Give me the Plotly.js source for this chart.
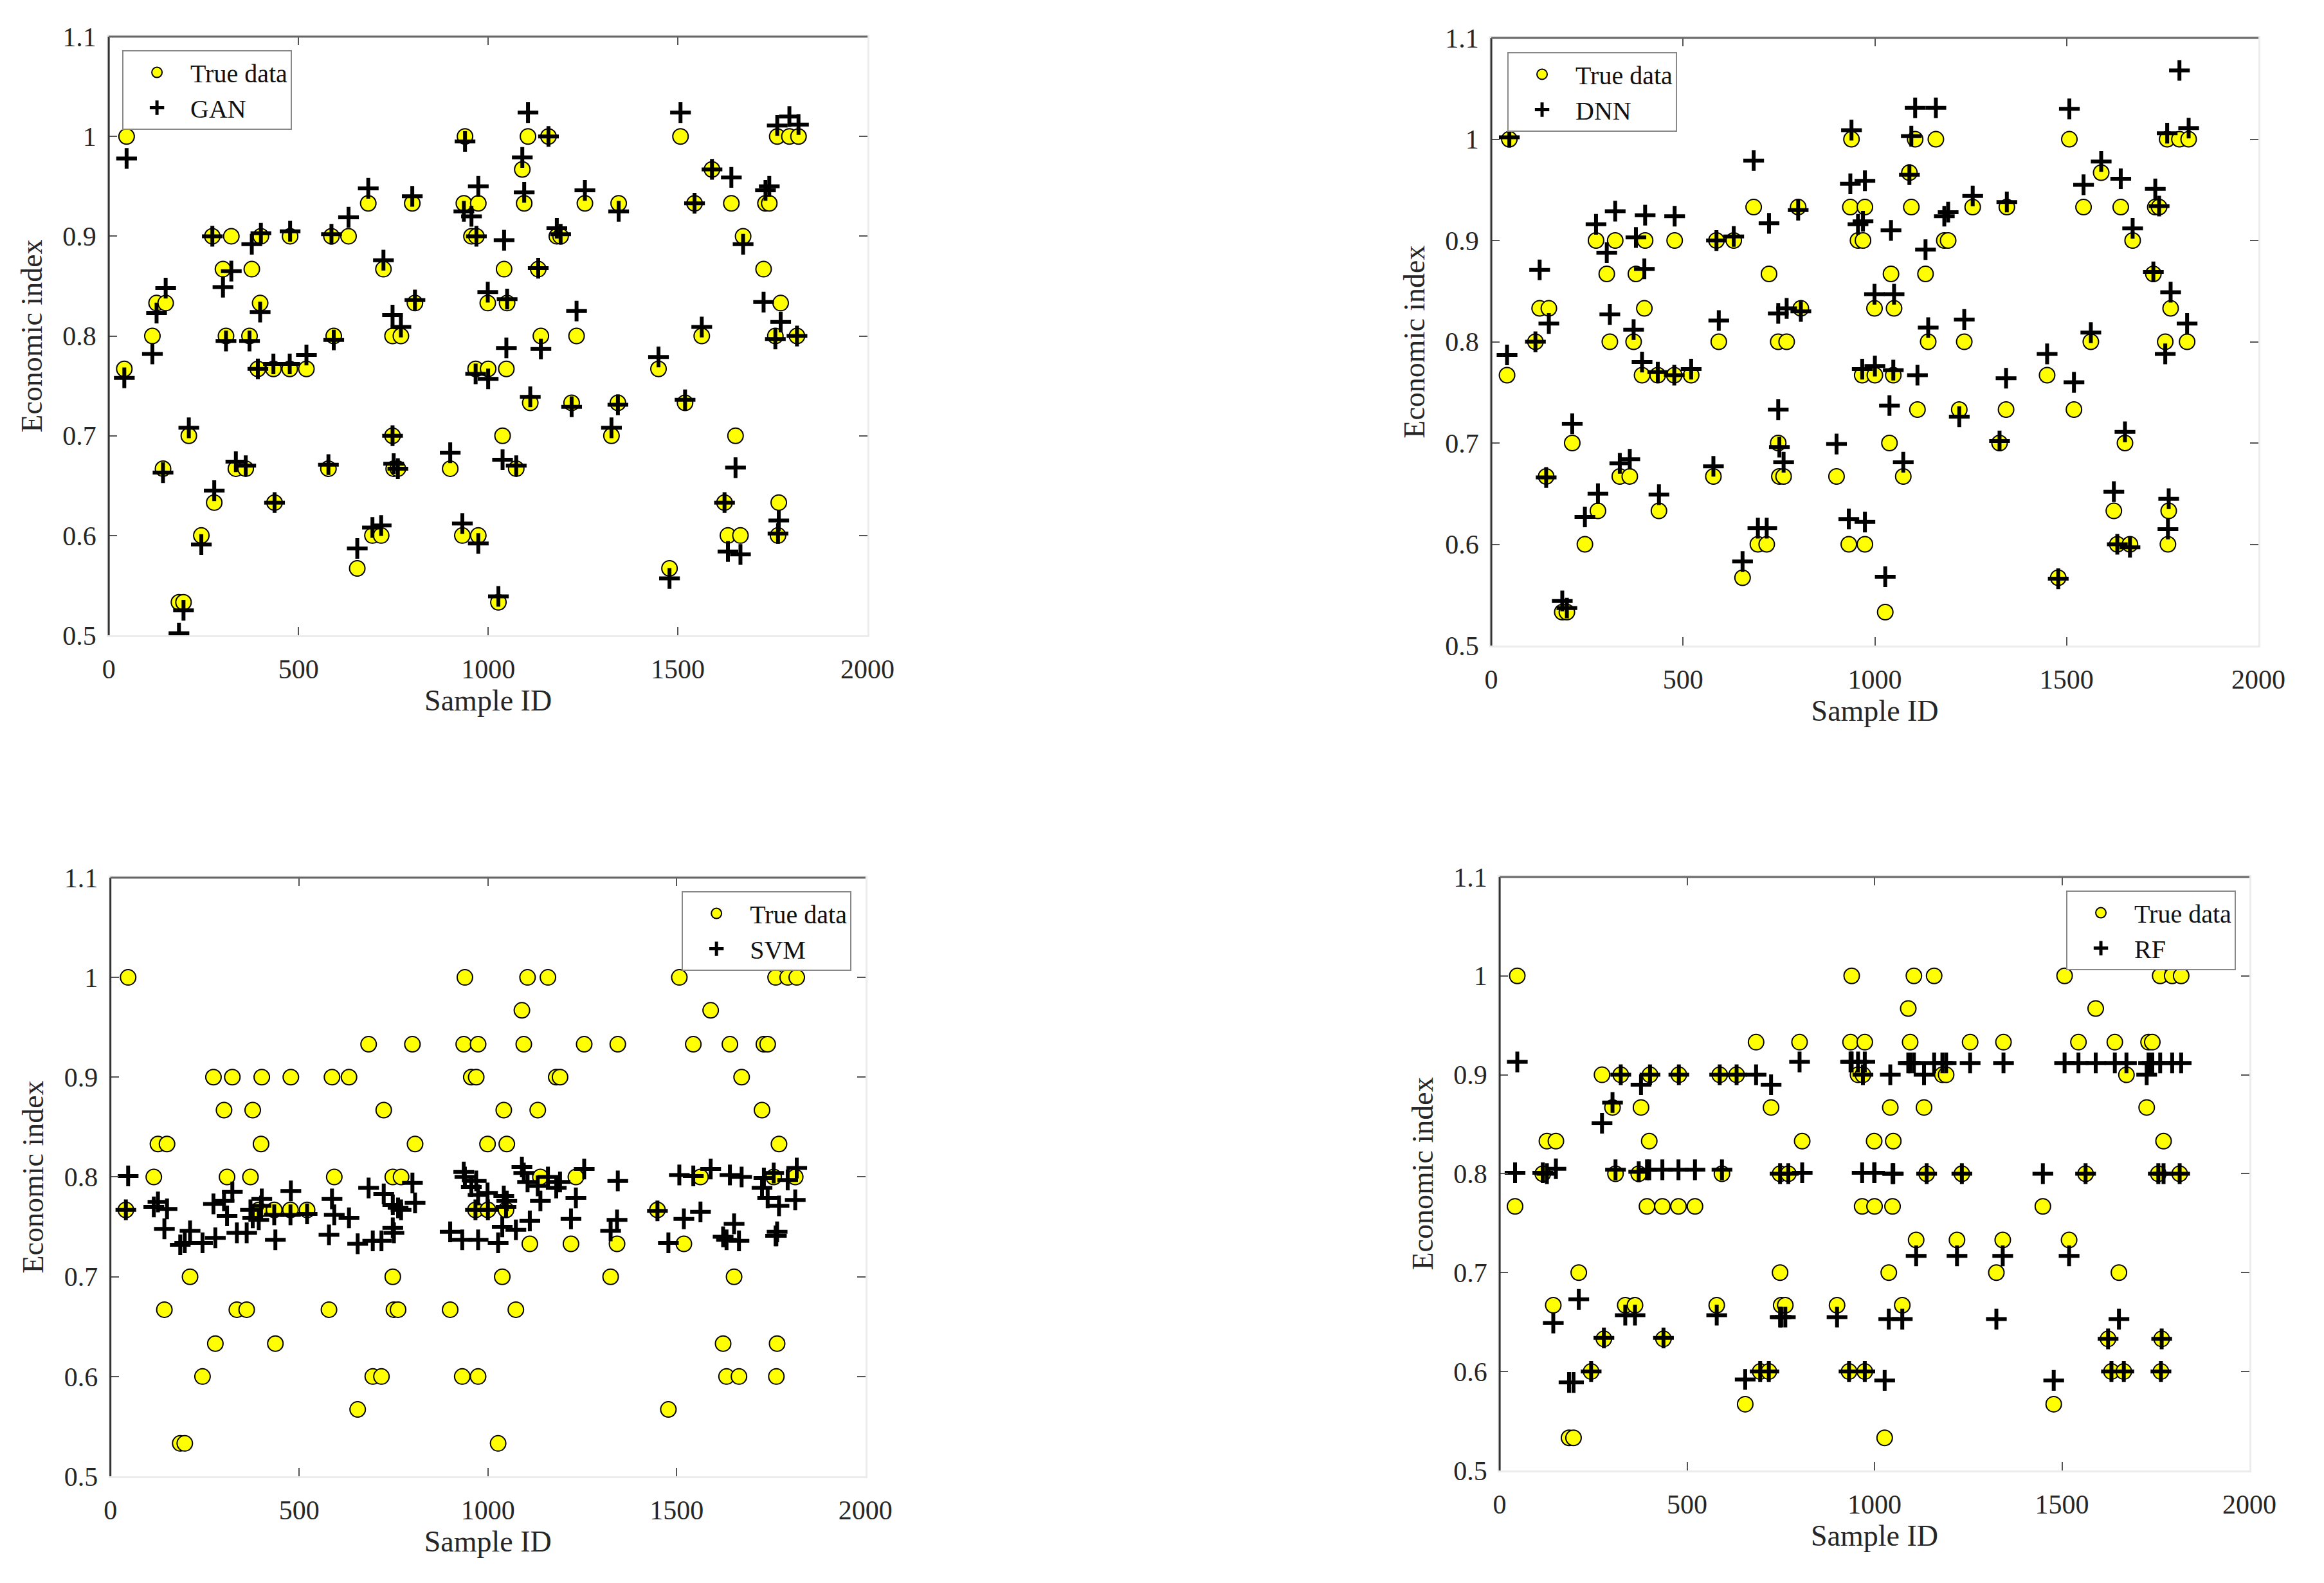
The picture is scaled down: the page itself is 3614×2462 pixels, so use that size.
<!DOCTYPE html>
<html>
<head>
<meta charset="utf-8">
<script src="https://cdn.plot.ly/plotly-3.0.1.min.js"></script>
<style>html,body{margin:0;padding:0;background:#fff} #plot{width:3614px;height:2462px}</style>
</head>
<body>
<div id="plot"></div>
<script>
// sample ids shared by every panel
const sampleId = [41,47,115,126,143,150,185,197,211,244,
  273,278,301,309,323,335,361,371,377,393,
  399,401,434,437,477,478,521,579,587,593,
  632,655,684,695,718,724,748,748,751,762,
  770,800,807,900,932,936,939,956,967,969,
  974,974,999,1000,1027,1038,1042,1048,1050,1074,
  1090,1095,1105,1111,1132,1139,1159,1181,1191,1220,
  1233,1255,1325,1342,1344,1449,1478,1507,1519,1544,
  1563,1590,1623,1632,1641,1652,1665,1672,1726,1731,
  1741,1757,1762,1764,1766,1771,1794,1814,1818];

const trueData = [0.767,1.0,0.8,0.833,0.667,0.833,0.533,0.533,0.7,0.6,
  0.9,0.633,0.867,0.8,0.9,0.667,0.667,0.8,0.867,0.767,
  0.833,0.9,0.767,0.633,0.767,0.9,0.767,0.667,0.9,0.8,
  0.9,0.567,0.933,0.6,0.6,0.867,0.7,0.8,0.667,0.667,
  0.8,0.933,0.833,0.667,0.6,0.933,1.0,0.9,0.767,0.9,
  0.933,0.6,0.833,0.767,0.533,0.7,0.867,0.767,0.833,0.667,
  0.967,0.933,1.0,0.733,0.867,0.8,1.0,0.9,0.9,0.733,
  0.8,0.933,0.7,0.733,0.933,0.767,0.567,1.0,0.733,0.933,
  0.8,0.967,0.633,0.6,0.933,0.7,0.6,0.9,0.867,0.933,
  0.933,0.8,1.0,0.6,0.633,0.833,1.0,0.8,1.0];

const gan = [0.758,0.978,0.782,0.823,0.663,0.848,0.502,0.525,0.708,0.591,
  0.900,0.645,0.849,0.795,0.865,0.674,0.670,0.795,0.892,0.767,
  0.824,0.903,0.772,0.633,0.772,0.905,0.781,0.671,0.902,0.796,
  0.919,0.587,0.948,0.608,0.610,0.876,0.700,0.821,0.672,0.667,
  0.809,0.940,0.836,0.683,0.612,0.925,0.995,0.920,0.762,0.900,
  0.950,0.592,0.844,0.757,0.539,0.676,0.896,0.788,0.837,0.670,
  0.979,0.944,1.024,0.739,0.868,0.787,1.000,0.908,0.902,0.729,
  0.825,0.946,0.708,0.731,0.925,0.779,0.557,1.024,0.736,0.933,
  0.809,0.967,0.633,0.584,0.959,0.668,0.581,0.892,0.834,0.946,
  0.950,0.797,1.011,0.602,0.615,0.814,1.020,0.800,1.012];

const dnn = [0.787,1.002,0.800,0.871,0.666,0.818,0.544,0.537,0.719,0.627,
  0.916,0.650,0.888,0.827,0.929,0.680,0.684,0.812,0.903,0.780,
  0.872,0.925,0.770,0.649,0.767,0.924,0.773,0.677,0.900,0.821,
  0.904,0.583,0.979,0.616,0.616,0.917,0.733,0.828,0.696,0.681,
  0.833,0.930,0.830,0.699,0.625,0.956,1.009,0.916,0.773,0.919,
  0.959,0.622,0.847,0.776,0.568,0.737,0.910,0.772,0.847,0.681,
  0.965,1.003,1.031,0.767,0.891,0.814,1.031,0.924,0.928,0.726,
  0.822,0.944,0.702,0.764,0.938,0.788,0.566,1.030,0.760,0.955,
  0.809,0.978,0.652,0.600,0.961,0.711,0.597,0.912,0.869,0.951,
  0.934,0.788,1.006,0.615,0.645,0.849,1.068,0.818,1.011];

const svm = [0.767,0.801,0.770,0.775,0.748,0.768,0.732,0.734,0.746,0.734,
  0.773,0.739,0.776,0.761,0.785,0.744,0.744,0.767,0.759,0.757,
  0.771,0.778,0.762,0.737,0.762,0.786,0.763,0.742,0.778,0.762,
  0.759,0.733,0.789,0.736,0.736,0.783,0.749,0.772,0.744,0.769,
  0.767,0.794,0.774,0.745,0.737,0.805,0.800,0.790,0.767,0.796,
  0.782,0.737,0.784,0.767,0.734,0.750,0.781,0.770,0.776,0.747,
  0.810,0.804,0.795,0.756,0.791,0.776,0.800,0.789,0.795,0.758,
  0.779,0.808,0.746,0.757,0.796,0.766,0.734,0.802,0.758,0.801,
  0.765,0.808,0.740,0.737,0.802,0.753,0.736,0.800,0.789,0.799,
  0.779,0.804,0.741,0.741,0.745,0.771,0.797,0.777,0.809];

const rf = [0.801,0.913,0.801,0.800,0.649,0.805,0.589,0.589,0.673,0.600,
  0.851,0.634,0.872,0.804,0.900,0.657,0.657,0.802,0.890,0.804,
  0.804,0.900,0.804,0.634,0.804,0.900,0.804,0.657,0.900,0.804,
  0.900,0.592,0.900,0.600,0.600,0.890,0.655,0.800,0.655,0.655,
  0.800,0.913,0.801,0.655,0.600,0.913,0.913,0.913,0.801,0.900,
  0.913,0.600,0.801,0.801,0.591,0.653,0.900,0.800,0.800,0.653,
  0.912,0.912,0.912,0.717,0.900,0.800,0.912,0.912,0.912,0.717,
  0.800,0.912,0.653,0.717,0.912,0.800,0.591,0.912,0.717,0.912,
  0.800,0.912,0.633,0.600,0.912,0.653,0.600,0.912,0.900,0.912,
  0.912,0.800,0.912,0.600,0.633,0.800,0.912,0.800,0.912];

const modelNames = ['GAN', 'DNN', 'SVM', 'RF'];
const modelValues = [gan, dnn, svm, rf];
const xTickVals = [0, 500, 1000, 1500, 2000];
const yTickVals = [0.5, 0.6, 0.7, 0.8, 0.9, 1, 1.1];
const yTickText = ['0.5', '0.6', '0.7', '0.8', '0.9', '1', '1.1'];

const panels = [
  {x: [0.0468, 0.3733], y: [0.5987, 0.9768], lx: 0.0526, ly: 0.9683, la: 'left'},
  {x: [0.6417, 0.9718], y: [0.5922, 0.9760], lx: 0.6486, ly: 0.9671, la: 'left'},
  {x: [0.0475, 0.3724], y: [0.0674, 0.4456], lx: 0.3664, ly: 0.4370, la: 'right'},
  {x: [0.6453, 0.9679], y: [0.0711, 0.4460], lx: 0.9621, ly: 0.4374, la: 'right'}
];

const font = 'Liberation Serif, Times New Roman, serif';
const data = [];
const layout = {
  width: 3614, height: 2462,
  margin: {l: 0, r: 0, t: 0, b: 0},
  paper_bgcolor: '#fff', plot_bgcolor: '#fff',
  font: {family: font, size: 42, color: '#262626'},
  shapes: []
};

panels.forEach(function(p, i) {
  const n = i === 0 ? '' : String(i + 1);
  const leg = i === 0 ? 'legend' : 'legend' + (i + 1);

  data.push({
    x: sampleId, y: trueData, name: 'True data',
    type: 'scatter', mode: 'markers',
    xaxis: 'x' + n, yaxis: 'y' + n, legend: leg,
    marker: {symbol: 'circle', size: 24, color: '#ffff00', line: {color: '#000', width: 2}}
  });
  data.push({
    x: sampleId, y: modelValues[i], name: modelNames[i],
    type: 'scatter', mode: 'markers',
    xaxis: 'x' + n, yaxis: 'y' + n, legend: leg,
    marker: {symbol: 'cross-thin', size: 23, color: '#000', line: {color: '#000', width: 6}}
  });

  layout['xaxis' + n] = {
    domain: p.x, anchor: 'y' + n, range: [0, 2000],
    tickvals: xTickVals, ticks: 'inside', ticklen: 13, tickwidth: 2, tickcolor: '#555',
    showline: true, linecolor: '#ececec', linewidth: 3, mirror: 'ticks',
    showgrid: false, zeroline: false, ticklabelstandoff: 14,
    tickfont: {size: 42},
    title: {text: 'Sample ID', font: {size: 46}, standoff: 10}
  };
  layout['yaxis' + n] = {
    domain: p.y, anchor: 'x' + n, range: [0.5, 1.1],
    tickvals: yTickVals, ticktext: yTickText,
    ticks: 'inside', ticklen: 13, tickwidth: 2, tickcolor: '#555',
    showline: true, linecolor: '#ececec', linewidth: 3, mirror: 'ticks',
    showgrid: false, zeroline: false, ticklabelstandoff: 8,
    tickfont: {size: 42},
    title: {text: 'Economic index', font: {size: 46}, standoff: 18}
  };
  layout[leg] = {
    x: p.lx, y: p.ly, xanchor: p.la, yanchor: 'top',
    bgcolor: '#fff', bordercolor: '#888', borderwidth: 2,
    font: {family: font, size: 40, color: '#111'},
    itemwidth: 94, tracegroupgap: 0
  };
  // dark left axis and grey top border as in the original
  layout.shapes.push({type: 'line', xref: 'x' + n + ' domain', yref: 'y' + n + ' domain',
    x0: 0, x1: 0, y0: 0, y1: 1, line: {color: '#333', width: 3}});
  layout.shapes.push({type: 'line', xref: 'x' + n + ' domain', yref: 'y' + n + ' domain',
    x0: 0, x1: 1, y0: 1, y1: 1, line: {color: '#666', width: 3}});
});

Plotly.newPlot('plot', data, layout, {staticPlot: true});
</script>
</body>
</html>
